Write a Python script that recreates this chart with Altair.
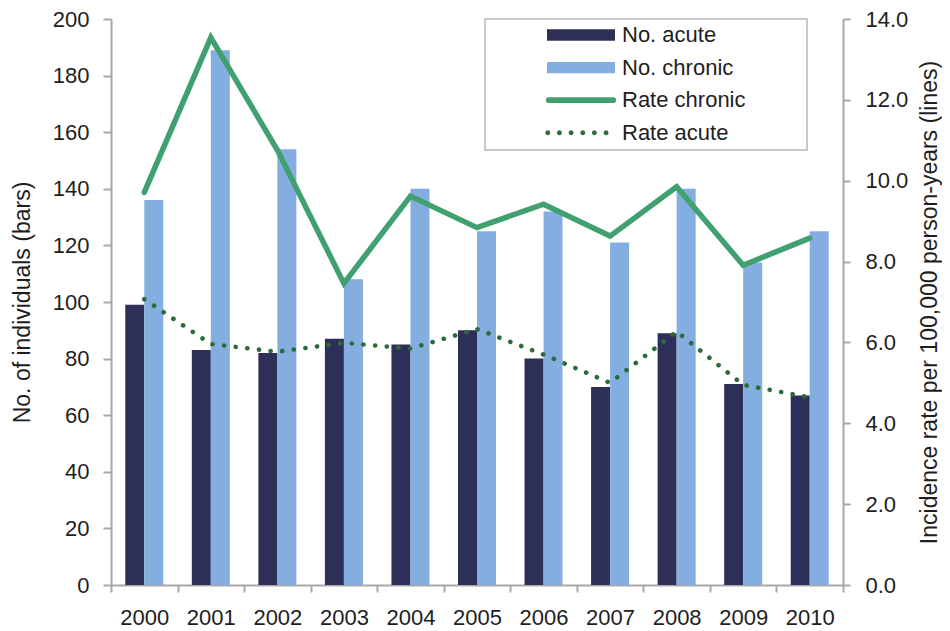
import altair as alt
import pandas as pd

# ---- data ----
years = ["2000", "2001", "2002", "2003", "2004", "2005", "2006", "2007", "2008", "2009", "2010"]
no_acute = [99, 83, 82, 87, 85, 90, 80, 70, 89, 71, 67]
no_chronic = [136, 189, 154, 108, 140, 125, 132, 121, 140, 114, 125]
rate_chronic = [9.71, 13.54, 10.76, 7.46, 9.62, 8.84, 9.42, 8.63, 9.85, 7.91, 8.58]
rate_acute = [7.07, 5.96, 5.77, 5.99, 5.85, 6.33, 5.70, 5.00, 6.27, 4.95, 4.64]
left_ticks = [0, 20, 40, 60, 80, 100, 120, 140, 160, 180, 200]
right_ticks = [0, 2, 4, 6, 8, 10, 12, 14]

series_names = ["No. acute", "No. chronic", "Rate chronic", "Rate acute"]
series_colors = ["#2e2f59", "#84aedf", "#40a070", "#2b6b3c"]

FONT = "Liberation Sans"
TXT = "#1e1e1e"
GRAY = "#a8a8a8"

bars_df = pd.DataFrame({
    "year": years * 2,
    "series": ["No. acute"] * len(years) + ["No. chronic"] * len(years),
    "count": no_acute + no_chronic,
})
chronic_df = pd.DataFrame({"year": years, "rate": rate_chronic, "series": "Rate chronic"})
acute_df = pd.DataFrame({"year": years, "rate": rate_acute, "series": "Rate acute"})
legend_df = pd.concat([chronic_df, acute_df], ignore_index=True)

# legend symbol shapes (unit paths, scaled by the symbol size)
def dot(cx, r=0.072):
    return f"M{cx - r:.3f},0A{r},{r} 0 1 0 {cx + r:.3f},0A{r},{r} 0 1 0 {cx - r:.3f},0Z"

bar_shape = "M-1,-0.166H1V0.166H-1Z"
line_shape = ("M-0.95,-0.085H0.95A0.085,0.085 0 0 1 0.95,0.085"
              "H-0.95A0.085,0.085 0 0 1 -0.95,-0.085Z")
dots_shape = " ".join(dot(c) for c in [-0.977, -0.635, -0.291, 0.053, 0.394, 0.738])
shape_range = [bar_shape, bar_shape, line_shape, dots_shape]

x_enc = alt.X(
    "year:N", sort=years,
    scale=alt.Scale(paddingInner=0, paddingOuter=0),
    axis=alt.Axis(title=None, labelAngle=0, tickBand="extent", tickSize=7,
                  labelPadding=15, labelFontSize=22),
)

left_axis = alt.Axis(
    orient="left", values=left_ticks, title="No. of individuals (bars)",
    tickSize=8, labelPadding=14, titlePadding=18,
)
right_axis = alt.Axis(
    orient="right", values=right_ticks, format=".1f",
    title="Incidence rate per 100,000 person-years (lines)",
    tickSize=7, labelPadding=15, titleAngle=270, titleBaseline="top", titlePadding=11,
)

bars = alt.Chart(bars_df).mark_bar().encode(
    x=x_enc,
    xOffset=alt.XOffset("series:N", sort=["No. acute", "No. chronic"],
                        scale=alt.Scale(paddingInner=0, paddingOuter=0.75)),
    y=alt.Y("count:Q", scale=alt.Scale(domain=[0, 200], nice=False), axis=left_axis),
    color=alt.Color("series:N",
                    scale=alt.Scale(domain=["No. acute", "No. chronic"],
                                    range=series_colors[:2]),
                    legend=None),
)

y_rate = alt.Y("rate:Q", scale=alt.Scale(domain=[0, 14], nice=False), axis=right_axis)

line_chronic = alt.Chart(chronic_df).mark_line(
    color=series_colors[2], strokeWidth=5.5, strokeCap="round", strokeJoin="miter"
).encode(x=x_enc, y=y_rate)

line_acute = alt.Chart(acute_df).mark_line(
    color=series_colors[3], strokeWidth=4.6, strokeCap="round", strokeDash=[0.1, 11.6]
).encode(x=x_enc, y=y_rate)

leg = alt.Legend(
    title=" ", titleOrient="right", titlePadding=55, titleFontSize=22, titleColor="#ffffff",
    orient="none", legendX=374, legendY=0, padding=6,
    symbolSize=4624, symbolOffset=56, labelOffset=7, clipHeight=20, rowPadding=10.6,
    labelFont=FONT, labelFontSize=22, labelColor=TXT, labelLimit=500,
    symbolStrokeWidth=0, symbolOpacity=1, strokeColor="#c8c8c8",
)

legend_pts = alt.Chart(legend_df).mark_point(filled=True, opacity=0).encode(
    x=x_enc, y=y_rate,
    color=alt.Color("series:N", scale=alt.Scale(domain=series_names, range=series_colors),
                    legend=leg),
    shape=alt.Shape("series:N", scale=alt.Scale(domain=series_names, range=shape_range),
                    legend=leg),
)

rates = alt.layer(line_chronic, line_acute, legend_pts)

chart = (
    alt.layer(bars, rates)
    .resolve_scale(y="independent", color="independent", shape="independent")
    .properties(
        width=732, height=566,
        padding={"left": 103, "top": 11, "right": 99, "bottom": 50},
        autosize=alt.AutoSizeParams(type="none"),
        background="white",
    )
    .configure_view(stroke=None)
    .configure_axis(
        grid=False, labelFont=FONT, labelFontSize=22, labelColor=TXT,
        titleFont=FONT, titleFontSize=23, titleFontWeight="normal", titleColor=TXT,
        domainColor=GRAY, domainWidth=2, tickColor=GRAY, tickWidth=2,
    )
    .configure_legend(strokeWidth=2)
)

chart.save("out.html", embed_options={"renderer": "svg", "actions": False})
